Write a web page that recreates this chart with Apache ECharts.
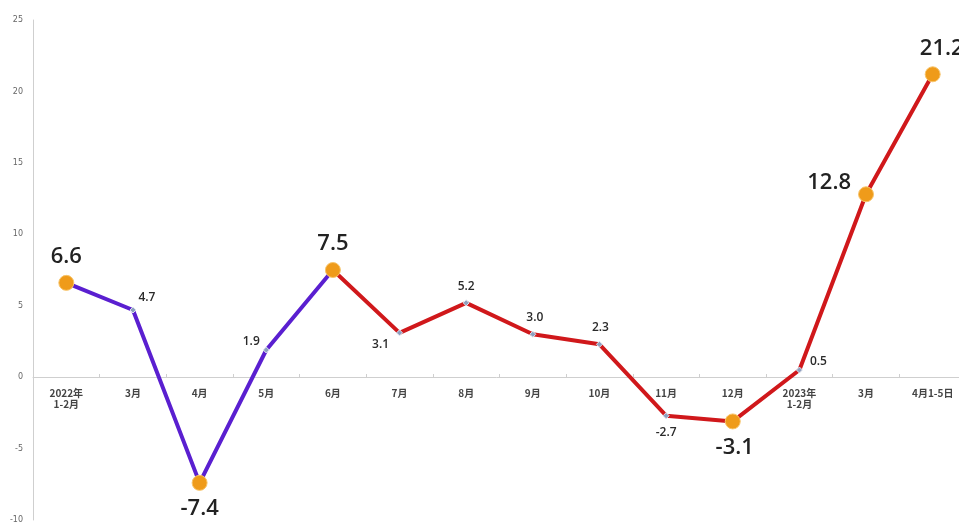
<!DOCTYPE html>
<html><head><meta charset="utf-8">
<script src="https://cdn.jsdelivr.net/npm/echarts@6/dist/echarts.min.js"></script>
<style>html,body{margin:0;padding:0;background:#fff}#c{width:959px;height:524px}</style>
</head><body><div id="c"></div>
<script>
var categories = ['2022年\n1-2月','3月','4月','5月','6月','7月','8月','9月','10月','11月','12月','2023年\n1-2月','3月','4月1-5日'];
var values = [6.6, 4.7, -7.4, 1.9, 7.5, 3.1, 5.2, 3.0, 2.3, -2.7, -3.1, 0.5, 12.8, 21.2];
var highlighted = [0, 2, 4, 10, 12, 13];
var purpleEnd = 4;
var yTicks = {min: -10, max: 25, interval: 5};

// label placement (style only)
var labelPlace = [
  ['top',[0,-2]], ['top',[14,2]], ['bottom',[0,2]], ['left',[2,-8]], ['top',[0,-2]],
  ['left',[-2,12]], ['top',[0,-2]], ['top',[2,-2]], ['top',[1,-2]], ['bottom',[0,2]],
  ['bottom',[2,2]], ['right',[2,-8]], ['left',[-2,-12]], ['top',[9,-2]]
];

var purpleData = values.map(function(v,i){return i<=purpleEnd? v : null;});
var redData = values.map(function(v,i){return i>=purpleEnd? v : null;});
var pointData = values.map(function(v,i){
  var big = highlighted.indexOf(i) >= 0;
  return {
    value: v,
    symbol: big ? 'circle' : 'diamond',
    symbolSize: big ? 15 : 6,
    itemStyle: big ? {color:'#ef9b1a', borderColor:'#f7c46a', borderWidth:1, opacity: 1} : {color:'#8c9fbf', borderColor:'#dfe6f0', borderWidth:1, opacity: 1},
    label: {
      show: true,
      formatter: v.toFixed(1),
      position: labelPlace[i][0],
      offset: labelPlace[i][1],
      fontSize: big ? 22 : 12,
      fontWeight: 600,
      color: big ? '#222' : '#2a2a2a',
      fontFamily: 'Open Sans, sans-serif'
    }
  };
});

var chart = echarts.init(document.getElementById('c'));
var zeroOffset = -143;
chart.setOption({
  animation: false,
  grid: {left: 33, top: 20, bottom: 4, width: 933, outerBoundsMode: 'none', containLabel: false},
  xAxis: {
    type: 'category', data: categories, boundaryGap: true,
    offset: zeroOffset,
    axisLine: {onZero: false, lineStyle: {color: '#cfcfcf', width: 1}},
    axisTick: {show: true, inside: true, length: 3, lineStyle: {color: '#cfcfcf'}},
    axisLabel: {color: '#444', fontSize: 10, fontWeight: 'bold', lineHeight: 11, margin: 11, interval: 0, fontFamily: 'Noto Sans CJK SC, sans-serif'}
  },
  yAxis: {
    type: 'value', min: yTicks.min, max: yTicks.max, interval: yTicks.interval,
    splitLine: {show: false},
    axisLine: {show: true, lineStyle: {color: '#cfcfcf'}},
    axisTick: {show: false},
    axisLabel: {color: '#666', fontSize: 8, margin: 10, fontFamily: 'DejaVu Sans, sans-serif'}
  },
  series: [
    {type: 'line', data: purpleData, symbol: 'none', lineStyle: {color: '#5a1fd0', width: 4}, z: 2},
    {type: 'line', data: redData, symbol: 'none', lineStyle: {color: '#d0181b', width: 4}, z: 2},
    {type: 'scatter', data: pointData, z: 5}
  ]
});
</script></body></html>
